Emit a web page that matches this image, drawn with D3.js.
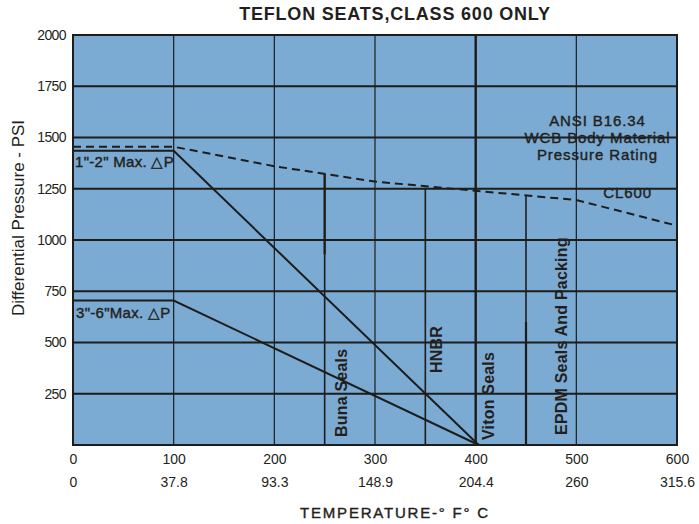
<!DOCTYPE html>
<html>
<head>
<meta charset="utf-8">
<script src="https://cdn.jsdelivr.net/npm/d3@7"></script>
<style>
  body { margin: 0; background: #fff; }
  text { font-family: "Liberation Sans", Arial, sans-serif; fill: #231f20; }
  .medium { stroke: #231f20; stroke-width: 0.4px; }
</style>
</head>
<body>
<div id="main"></div>
<script>
// chart values
var yTicks = [250, 500, 750, 1000, 1250, 1500, 1750, 2000];
var fTicks = [0, 100, 200, 300, 400, 500, 600];
var cLabels = ["0", "37.8", "93.3", "148.9", "204.4", "260", "315.6"];

// ANSI B16.34 CL600 rating (dashed)
var ratingTemp = [0, 100, 200, 300, 400, 500, 600];
var ratingPsi = [1455, 1455, 1360, 1285, 1240, 1195, 1070];

// max delta P lines
var smallTemp = [0, 100, 403];
var smallPsi = [1435, 1435, 0];
var largeTemp = [0, 100, 403];
var largePsi = [705, 705, 0];

// seal limit lines: temp, top psi, thick section [from, to]
var sealNames = ["Buna Seals", "HNBR", "Viton Seals", "EPDM Seals And Packing"];
var sealTemp = [250, 350, 400, 450];
var sealTop = [1322, 1255, 2000, 1215];
var sealThick = [[930, 1322], null, [0, 2000], [0, 600]];
// label anchor (temp, psi) for each seal name
var sealLabelTemp = [272, 367, 418, 491];
var sealLabelPsi = [39, 351, 24, 49];

var ctx = {
    w: 604,
    h: 410,
    margin: { top: 35, left: 73 },
    fill: "#7baad2",
    ink: "#1d1d1b"
};

var svg = d3.select("#main").append("svg")
    .attr("width", 699).attr("height", 524);

var g = svg.append("g")
    .attr("transform", "translate(" + ctx.margin.left + "," + ctx.margin.top + ")");

var x = d3.scaleLinear().domain([0, 600]).range([0, ctx.w]);
var y = d3.scaleLinear().domain([0, 2000]).range([ctx.h, 0]);

g.append("rect")
    .attr("width", ctx.w).attr("height", ctx.h)
    .attr("fill", ctx.fill);

// vertical grid
g.selectAll(".vgrid").data(fTicks.slice(1, -1)).enter().append("line")
    .attr("x1", d => x(d)).attr("x2", d => x(d))
    .attr("y1", 0).attr("y2", ctx.h)
    .attr("stroke", ctx.ink).attr("stroke-width", 1.2);

// horizontal grid
g.selectAll(".hgrid").data(yTicks.slice(0, -1)).enter().append("line")
    .attr("x1", 0).attr("x2", ctx.w)
    .attr("y1", d => y(d)).attr("y2", d => y(d))
    .attr("stroke", ctx.ink).attr("stroke-width", 2);

// seal lines
sealTemp.forEach(function (t, i) {
    g.append("line")
        .attr("x1", x(t)).attr("x2", x(t))
        .attr("y1", y(sealTop[i])).attr("y2", ctx.h)
        .attr("stroke", ctx.ink).attr("stroke-width", 1.6);
    if (sealThick[i]) {
        g.append("line")
            .attr("x1", x(t)).attr("x2", x(t))
            .attr("y1", y(sealThick[i][1])).attr("y2", y(sealThick[i][0]))
            .attr("stroke", ctx.ink).attr("stroke-width", 2.2);
    }
});

var line = d3.line().x(d => x(d[0])).y(d => y(d[1]));

g.append("path")
    .datum(d3.zip(ratingTemp, ratingPsi))
    .attr("d", line)
    .attr("fill", "none").attr("stroke", ctx.ink)
    .attr("stroke-width", 2).attr("stroke-dasharray", "8,5");

[[smallTemp, smallPsi], [largeTemp, largePsi]].forEach(function (s) {
    g.append("path")
        .datum(d3.zip(s[0], s[1]))
        .attr("d", line)
        .attr("fill", "none").attr("stroke", ctx.ink)
        .attr("stroke-width", 2);
});

// frame
g.append("rect")
    .attr("width", ctx.w).attr("height", ctx.h)
    .attr("fill", "none").attr("stroke", ctx.ink).attr("stroke-width", 2);

// y axis labels
var yAxis = g.append("g")
    .call(d3.axisLeft(y).tickValues(yTicks).tickSize(0).tickPadding(7)
        .tickFormat(d3.format("d")));
yAxis.select(".domain").remove();
yAxis.selectAll("text")
    .style("font-size", "14px").style("letter-spacing", "-0.6px")
    .attr("fill", "#231f20");

// x axis labels, two rows (F and C)
var xAxis = g.append("g")
    .attr("transform", "translate(0," + ctx.h + ")")
    .call(d3.axisBottom(x).tickValues(fTicks).tickSize(0).tickPadding(9));
xAxis.select(".domain").remove();
xAxis.selectAll("text").style("font-size", "14px").attr("fill", "#231f20");

var xAxisC = g.append("g")
    .attr("transform", "translate(0," + (ctx.h + 23) + ")")
    .call(d3.axisBottom(x).tickValues(fTicks).tickSize(0).tickPadding(9)
        .tickFormat((d, i) => cLabels[i]));
xAxisC.select(".domain").remove();
xAxisC.selectAll("text").style("font-size", "14px").attr("fill", "#231f20");

// titles
svg.append("text")
    .attr("x", 395).attr("y", 20)
    .attr("text-anchor", "middle")
    .style("font-size", "18px").style("font-weight", "bold")
    .style("letter-spacing", "0.8px")
    .text("TEFLON SEATS,CLASS 600 ONLY");

svg.append("text")
    .attr("class", "medium")
    .attr("x", 395).attr("y", 518)
    .attr("text-anchor", "middle")
    .style("font-size", "15px").style("letter-spacing", "1.8px")
    .text("TEMPERATURE-° F° C");

svg.append("text")
    .attr("transform", "translate(24,218) rotate(-90)")
    .attr("text-anchor", "middle")
    .style("font-size", "17px")
    .text("Differential Pressure - PSI");

// annotations
g.append("text")
    .attr("class", "medium")
    .attr("x", 2).attr("y", y(smallPsi[0]) + 16)
    .style("font-size", "15px").style("letter-spacing", "0.3px")
    .text("1\"-2\" Max. \u25B3P");

g.append("text")
    .attr("class", "medium")
    .attr("x", 3).attr("y", y(largePsi[0]) + 18)
    .style("font-size", "15px").style("letter-spacing", "0.3px")
    .text("3\"-6\"Max. \u25B3P");

var ansi = ["ANSI B16.34", "WCB Body Material", "Pressure Rating"];
g.selectAll(".ansi").data(ansi).enter().append("text")
    .attr("class", "medium")
    .attr("x", x(521))
    .attr("y", (d, i) => y(1556) + i * 17)
    .attr("text-anchor", "middle")
    .style("font-size", "15px").style("letter-spacing", "0.9px")
    .text(d => d);

g.append("text")
    .attr("class", "medium")
    .attr("x", x(551)).attr("y", y(1205))
    .attr("text-anchor", "middle")
    .style("font-size", "15px").style("letter-spacing", "0.9px")
    .text("CL600");

sealNames.forEach(function (n, i) {
    g.append("text")
        .attr("transform", "translate(" + x(sealLabelTemp[i]) + "," + y(sealLabelPsi[i]) + ") rotate(-90)")
        .style("font-size", "16px").style("font-weight", "bold")
        .style("letter-spacing", "0.2px")
        .text(n);
});
</script>
</body>
</html>
